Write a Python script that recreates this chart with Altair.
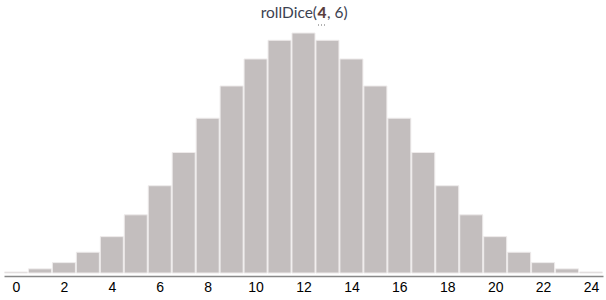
import altair as alt
import pandas as pd

# Sum shown on x axis and bar heights
sums = list(range(0, 25))
counts = [1, 4, 10, 20, 35, 56, 84, 116, 149, 180, 206, 224, 231,
          224, 206, 180, 149, 116, 84, 56, 35, 20, 10, 4, 1]
tick_values = [0, 2, 4, 6, 8, 10, 12, 14, 16, 18, 20, 22, 24]

df = pd.DataFrame({"sum": sums, "count": counts})

xscale = alt.Scale(domain=[-0.5, 24.5], nice=False, zero=False)
yscale = alt.Scale(domain=[0, 231], nice=False)

bars = alt.Chart(df).transform_calculate(
    lo="datum.sum - 0.48", hi="datum.sum + 0.48"
).mark_bar(color="#c3bebe", stroke="#eeebeb", strokeWidth=1).encode(
    x=alt.X("lo:Q", scale=xscale, title=None,
            axis=alt.Axis(values=tick_values, format="d", ticks=False, grid=False,
                          domainColor="#888888", domainWidth=1.5, offset=3,
                          labelFont="Liberation Sans", labelFontSize=14,
                          labelColor="#000000", labelPadding=4)),
    x2="hi:Q",
    y=alt.Y("count:Q", scale=yscale, axis=None),
    y2=alt.datum(0),
)

title_df = pd.DataFrame({"a": ["rollDice("], "b": ["4"], "c": [", 6)"]})
t1 = alt.Chart(title_df).mark_text(align="right", baseline="middle", font="Lato",
                                   fontSize=15.5, color="#3c4251").encode(
    text="a:N", x=alt.value(313), y=alt.value(-20))
t2 = alt.Chart(title_df).mark_text(align="center", baseline="middle", font="Lato",
                                   fontSize=15.5, fontWeight=900, color="#5a3e3e").encode(
    text="b:N", x=alt.value(318), y=alt.value(-20))
t3 = alt.Chart(title_df).mark_text(align="left", baseline="middle", font="Lato",
                                   fontSize=15.5, color="#3c4251").encode(
    text="c:N", x=alt.value(323), y=alt.value(-20))
dots = alt.Chart(title_df).mark_rule(color="#666666", strokeDash=[1, 2], strokeWidth=1).encode(
    x=alt.value(314), x2=alt.value(323), y=alt.value(-8))

chart = alt.layer(bars, t1, t2, t3, dots).properties(
    width=599, height=240,
    autosize=alt.AutoSizeParams(type="none"),
    padding={"left": 4, "top": 33, "right": 3, "bottom": 27},
).configure_view(stroke=None)

chart.save("out.html", embed_options={"renderer": "svg", "actions": False})
